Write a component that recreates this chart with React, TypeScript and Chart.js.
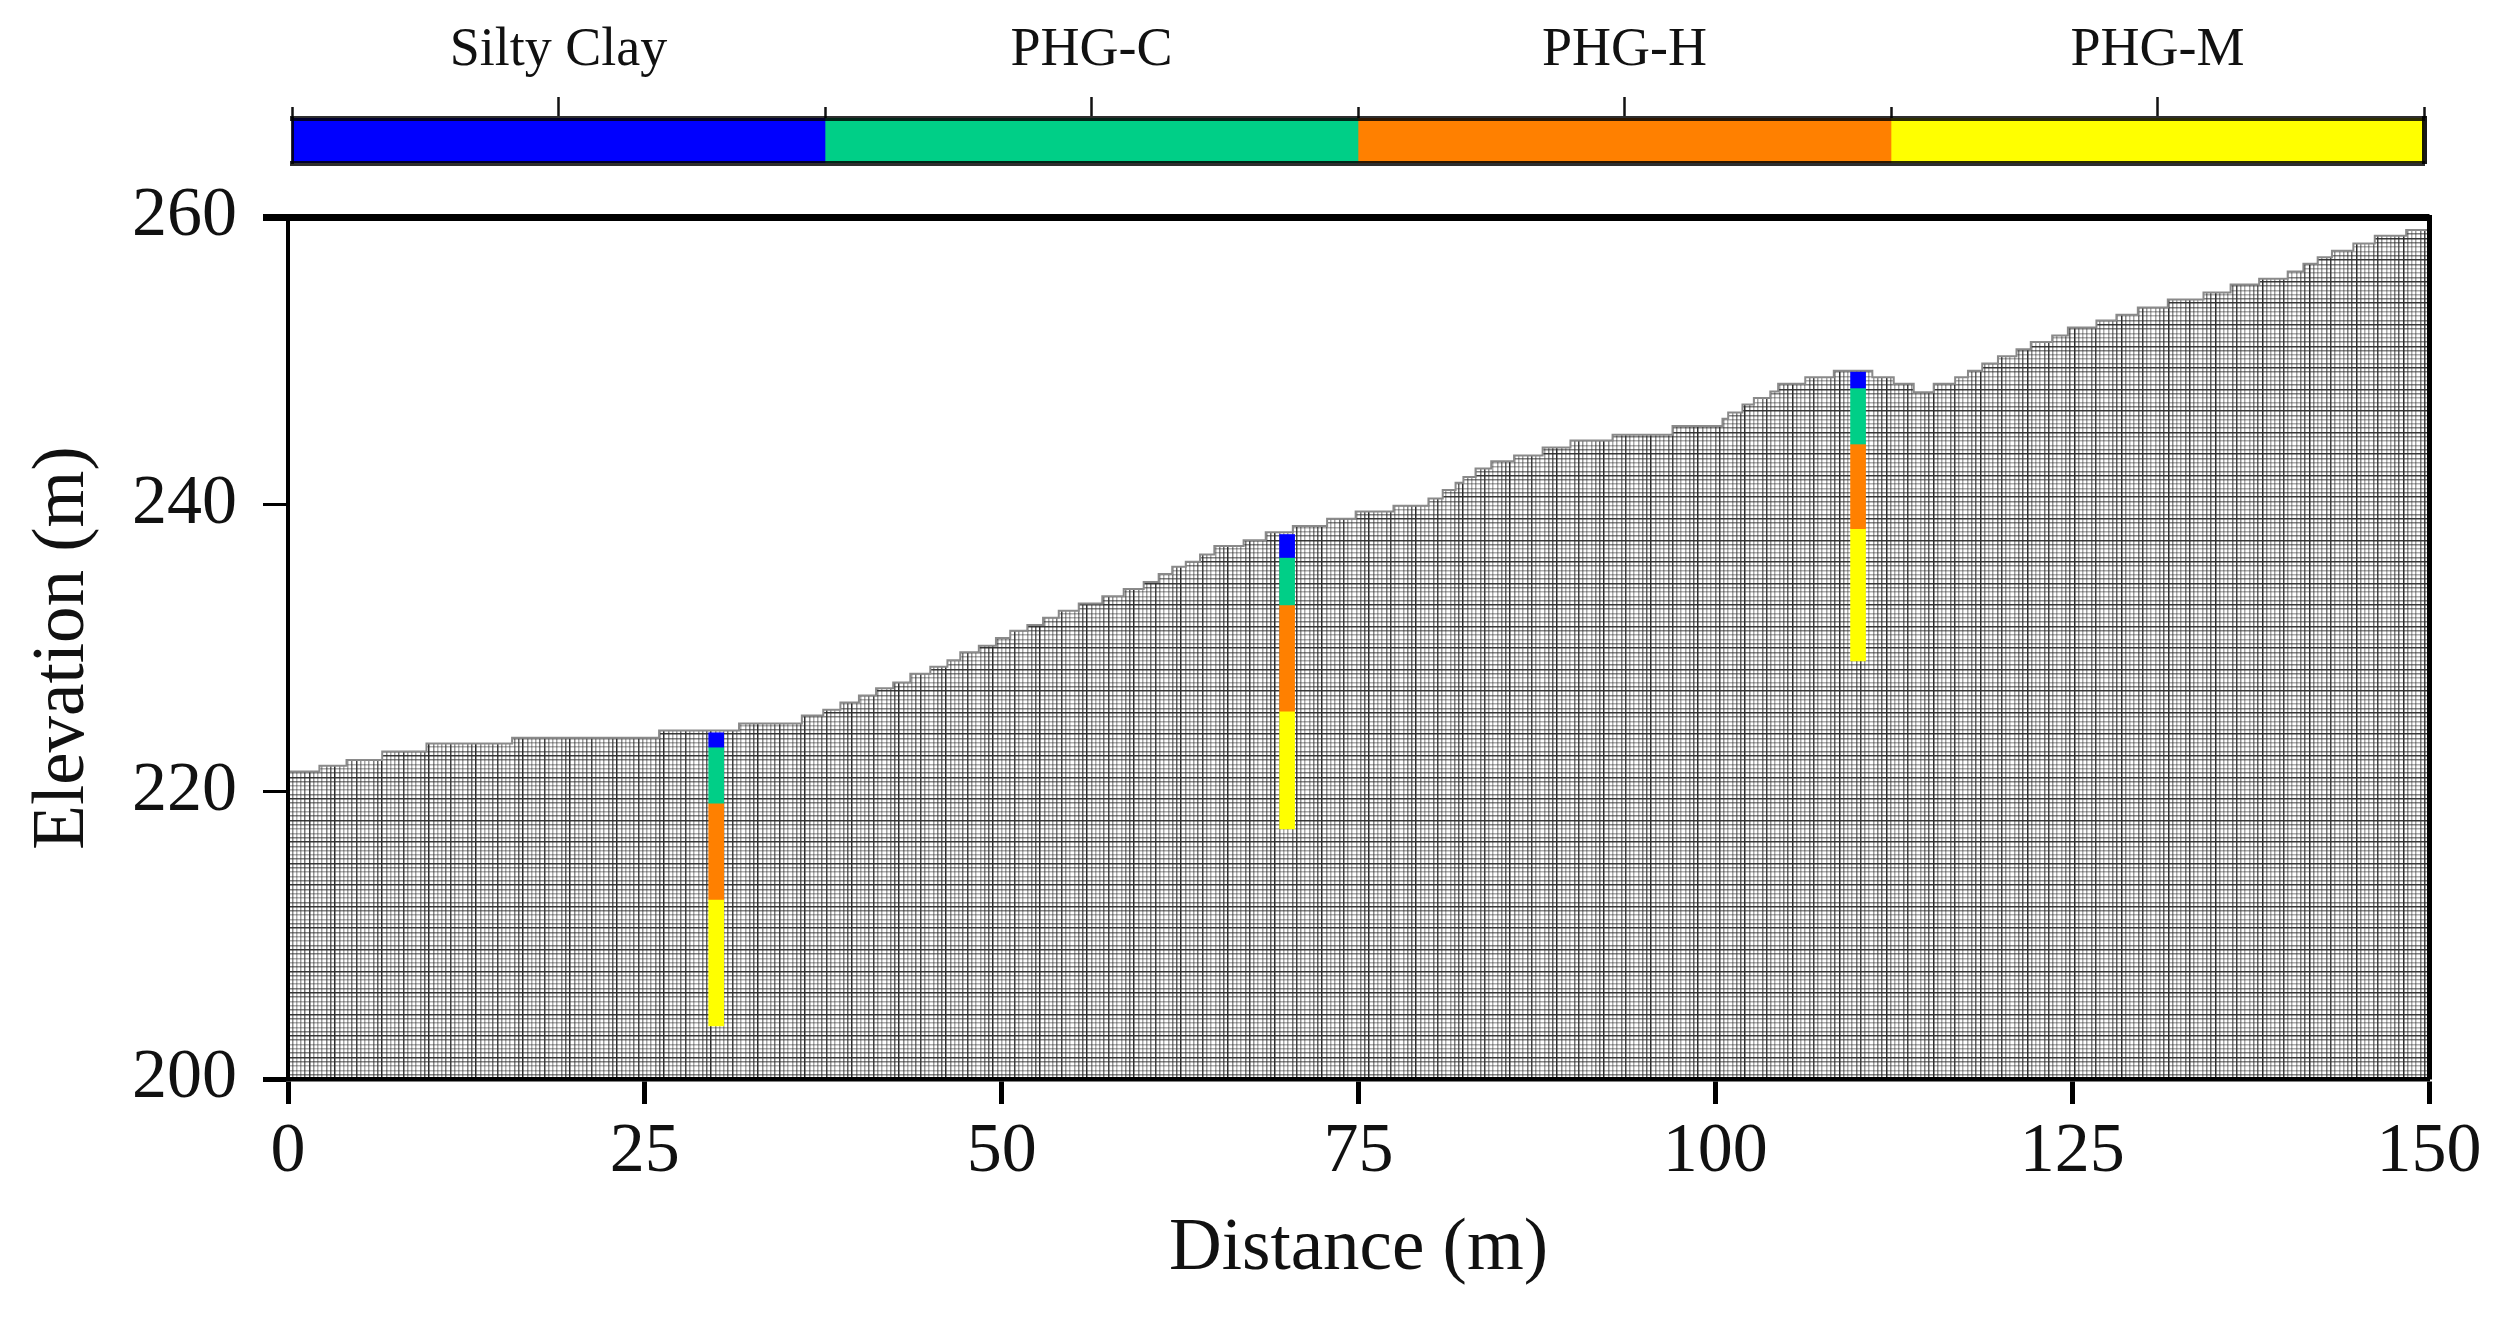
import React, { useEffect, useRef } from 'react';
import { Chart, registerables } from 'chart.js';

Chart.register(...registerables);

const SERIF = '"Liberation Serif", "Times New Roman", serif';

// stepped ground surface: each step starts at terrainX and holds terrainElev
const terrainX = [
  0, 2.2, 4.1, 6.6, 9.7, 15.7, 26, 31.6, 36, 37.5, 38.7, 40, 41.2, 42.4, 43.6, 45, 46.2, 47.1,
  48.4, 49.6, 50.6, 51.8, 52.9, 54, 55.4, 57.05, 58.55, 59.95, 61, 61.95, 62.9, 63.9, 64.9, 66.95,
  68.5, 70.4, 72.8, 74.8, 77.45, 79.9, 80.9, 81.8, 82.35, 83.2, 84.3, 85.9, 87.9, 89.85, 92.8, 97,
  100.5, 100.9, 101.9, 102.7, 103.85, 104.4, 106.3, 108.3, 111, 112.5, 113.9, 115.3, 116.8, 117.7,
  118.7, 119.8, 121.1, 122.1, 123.6, 124.7, 126.7, 128.1, 129.6, 131.7, 134.2, 136.1, 138.1, 140.1,
  141.2, 142.2, 143.2, 144.7, 146.2, 148.4, 150,
];
const terrainElev = [
  221.4, 221.8, 222.2, 222.8, 223.35, 223.75, 224.25, 224.75, 225.3, 225.7, 226.2, 226.7, 227.2, 227.6,
  228.2, 228.7, 229.15, 229.7, 230.15, 230.7, 231.2, 231.6, 232.1, 232.6, 233.1, 233.6, 234.1, 234.6,
  235.15, 235.65, 236, 236.5, 237.1, 237.5, 238.05, 238.5, 239, 239.5, 239.9, 240.4, 241, 241.5, 241.9,
  242.5, 243, 243.4, 243.95, 244.45, 244.85, 245.45, 245.95, 246.4, 246.95, 247.4, 247.85, 248.4, 248.85,
  249.3, 248.85, 248.4, 247.8, 248.4, 248.85, 249.3, 249.8, 250.3, 250.8, 251.3, 251.75, 252.3, 252.8,
  253.2, 253.7, 254.25, 254.75, 255.3, 255.7, 256.2, 256.75, 257.2, 257.65, 258.15, 258.7, 259.1, 259.1,
];

const layerNames = ['Silty Clay', 'PHG-C', 'PHG-H', 'PHG-M'];
const layerColors = ['#0000ff', '#00cf87', '#ff8000', '#ffff00'];

// boreholes: [bottom, top] elevation of each layer at x = 30, 70, 110
const boreholeX = [30, 70, 110];
const siltyClay = [[223.1, 224.1], [236.3, 237.9], [248.1, 249.2]];
const phgC = [[219.2, 223.1], [233, 236.3], [244.2, 248.1]];
const phgH = [[212.5, 219.2], [225.6, 233], [238.3, 244.2]];
const phgM = [[203.7, 212.5], [217.4, 225.6], [229.1, 238.3]];
const layers = [siltyClay, phgC, phgH, phgM];

const xTicks = [0, 25, 50, 75, 100, 125, 150];
const yTicks = [200, 220, 240, 260];
const barCentres = [0.5, 1.5, 2.5, 3.5];
const barEdges = [0, 1, 2, 3, 4];

const MESH_X = 0.3;
const MESH_Y = 0.3;
// line darkness repeats with these cycles, which gives the plaid look of the scanned mesh
const meshShadeX = [1, 0.55, 0.4, 0.45, 0.65, 0.9, 0.5, 0.4, 0.45, 0.6, 0.75];
const meshShadeY = [0.95, 0.6, 0.4, 0.4, 0.6];
const meshColor = (shades: number[]) => (ctx: any) =>
  `rgba(45,45,45,${shades[ctx.index % shades.length]})`;

const setTicks = (values: number[]) => (scale: any) => {
  scale.ticks = values.map(value => ({ value }));
};

export default function App() {
  const mainRef = useRef<HTMLCanvasElement>(null);
  const barRef = useRef<HTMLCanvasElement>(null);

  useEffect(() => {
    if (!mainRef.current || !barRef.current) return;

    const main = new Chart(mainRef.current, {
      type: 'bar',
      data: {
        datasets: [
          ...layers.map((layer, i) => ({
            type: 'bar' as const,
            label: layerNames[i],
            data: layer.map((range, j) => ({ x: boreholeX[j], y: range })),
            backgroundColor: layerColors[i],
            barThickness: 15,
            grouped: false,
            order: 1,
          })),
          {
            // white above the ground hides the mesh gridlines there
            type: 'line' as const,
            label: 'Ground',
            data: terrainX.map((x, i) => ({ x, y: terrainElev[i] })),
            stepped: true,
            fill: 'end',
            backgroundColor: '#ffffff',
            borderColor: '#8a8a8a',
            borderWidth: 2,
            pointRadius: 0,
            order: 2,
          },
        ] as any,
      },
      options: {
        responsive: false,
        animation: false,
        layout: { padding: { left: 0, right: 78, top: 217, bottom: 0 } },
        plugins: { legend: { display: false }, tooltip: { enabled: false } },
        scales: {
          x: {
            type: 'linear',
            min: 0,
            max: 150,
            offset: false,
            afterBuildTicks: setTicks(xTicks),
            afterFit: (s: any) => { s.height = 1318 - 1079; },
            border: { display: true, color: '#000', width: 4.5, z: 1 },
            grid: { offset: false, drawOnChartArea: false, drawTicks: true, tickLength: 25, tickWidth: 5, tickColor: '#000' },
            ticks: { autoSkip: false, maxRotation: 0, padding: 7, color: '#111', font: { family: SERIF, size: 70 } },
            title: { display: true, text: 'Distance (m)', color: '#111', padding: { top: 0, bottom: 24 }, font: { family: SERIF, size: 73 } },
          },
          y: {
            type: 'linear',
            min: 200,
            max: 260,
            afterBuildTicks: setTicks(yTicks),
            afterFit: (s: any) => { s.width = 288; },
            border: { display: true, color: '#000', width: 4, z: 1 },
            grid: {
              drawOnChartArea: false,
              drawTicks: true,
              tickLength: 25,
              tickWidth: (ctx: any) => (ctx.tick.value === 260 ? 7 : ctx.tick.value === 200 ? 5 : 3),
              tickColor: '#000',
            },
            ticks: { autoSkip: false, padding: 26, color: '#111', font: { family: SERIF, size: 70 } },
            title: { display: true, text: 'Elevation (m)', color: '#111', padding: { top: 20, bottom: 0 }, font: { family: SERIF, size: 73 } },
          },
          // the mesh is the gridlines of these two; they also draw the top and right frame
          xMesh: {
            type: 'linear',
            position: 'top',
            min: 0,
            max: 150,
            border: { display: true, color: '#000', width: 7, z: 1 },
            grid: { color: meshColor(meshShadeX), lineWidth: 1.5, drawTicks: false },
            ticks: { display: false, stepSize: MESH_X, maxTicksLimit: 1000, autoSkip: false },
          },
          yMesh: {
            type: 'linear',
            position: 'right',
            min: 200,
            max: 260,
            border: { display: true, color: '#000', width: 5, z: 1 },
            grid: { color: meshColor(meshShadeY), lineWidth: 1.5, drawTicks: false },
            ticks: { display: false, stepSize: MESH_Y, maxTicksLimit: 1000, autoSkip: false },
          },
        } as any,
      },
    });

    const bar = new Chart(barRef.current, {
      type: 'bar',
      data: {
        labels: ['Layer'],
        datasets: layerNames.map((label, i) => ({
          label,
          data: [[i, i + 1]],
          backgroundColor: layerColors[i],
          barPercentage: 1,
          categoryPercentage: 1,
          grouped: false,
        })) as any,
      },
      options: {
        indexAxis: 'y',
        responsive: false,
        animation: false,
        layout: { padding: { left: 292, right: 83, top: 0, bottom: 17 } },
        plugins: { legend: { display: false }, tooltip: { enabled: false } },
        scales: {
          x: {
            type: 'linear',
            position: 'top',
            weight: 1,
            min: 0,
            max: 4,
            afterBuildTicks: setTicks(barCentres),
            afterFit: (s: any) => { s.height = 118; },
            border: { display: true, color: 'rgba(0,0,0,0.82)', width: 5, z: 1 },
            grid: { drawOnChartArea: false, drawTicks: true, tickLength: 21, tickWidth: 2.5, tickColor: '#111' },
            ticks: {
              autoSkip: false,
              maxRotation: 0,
              padding: 14,
              color: '#111',
              font: { family: SERIF, size: 54 },
              callback: (_v: any, i: number) => layerNames[i],
            },
          },
          xEdges: {
            type: 'linear',
            position: 'top',
            weight: 0,
            min: 0,
            max: 4,
            afterBuildTicks: setTicks(barEdges),
            afterFit: (s: any) => { s.height = 0; },
            border: { display: false },
            grid: { drawOnChartArea: false, drawTicks: true, tickLength: 11, tickWidth: 2.5, tickColor: '#111' },
            ticks: { display: false, autoSkip: false },
          },
          xBase: {
            type: 'linear',
            position: 'bottom',
            min: 0,
            max: 4,
            border: { display: true, color: 'rgba(0,0,0,0.82)', width: 5, z: 1 },
            grid: { display: false, drawTicks: false },
            ticks: { display: false },
          },
          y: {
            type: 'category',
            position: 'left',
            afterFit: (s: any) => { s.width = 0; },
            border: { display: true, color: 'rgba(0,0,0,0.82)', width: 3, z: 1 },
            grid: { display: false, drawTicks: false },
            ticks: { display: false },
          },
          yEnd: {
            type: 'linear',
            position: 'right',
            border: { display: true, color: 'rgba(0,0,0,0.9)', width: 5, z: 1 },
            grid: { display: false, drawTicks: false },
            ticks: { display: false },
            afterFit: (s: any) => { s.width = 0; },
          },
        } as any,
      },
    });

    return () => {
      main.destroy();
      bar.destroy();
    };
  }, []);

  return (
    <div style={{ position: 'fixed', left: 0, top: 0, width: 2507, height: 1318, background: '#fff', overflow: 'hidden' }}>
      <canvas ref={mainRef} width={2507} height={1318} style={{ position: 'absolute', left: 0, top: 0, filter: 'blur(0.6px)' }} />
      <canvas ref={barRef} width={2507} height={180} style={{ position: 'absolute', left: 0, top: 0, filter: 'blur(0.6px)' }} />
    </div>
  );
}
